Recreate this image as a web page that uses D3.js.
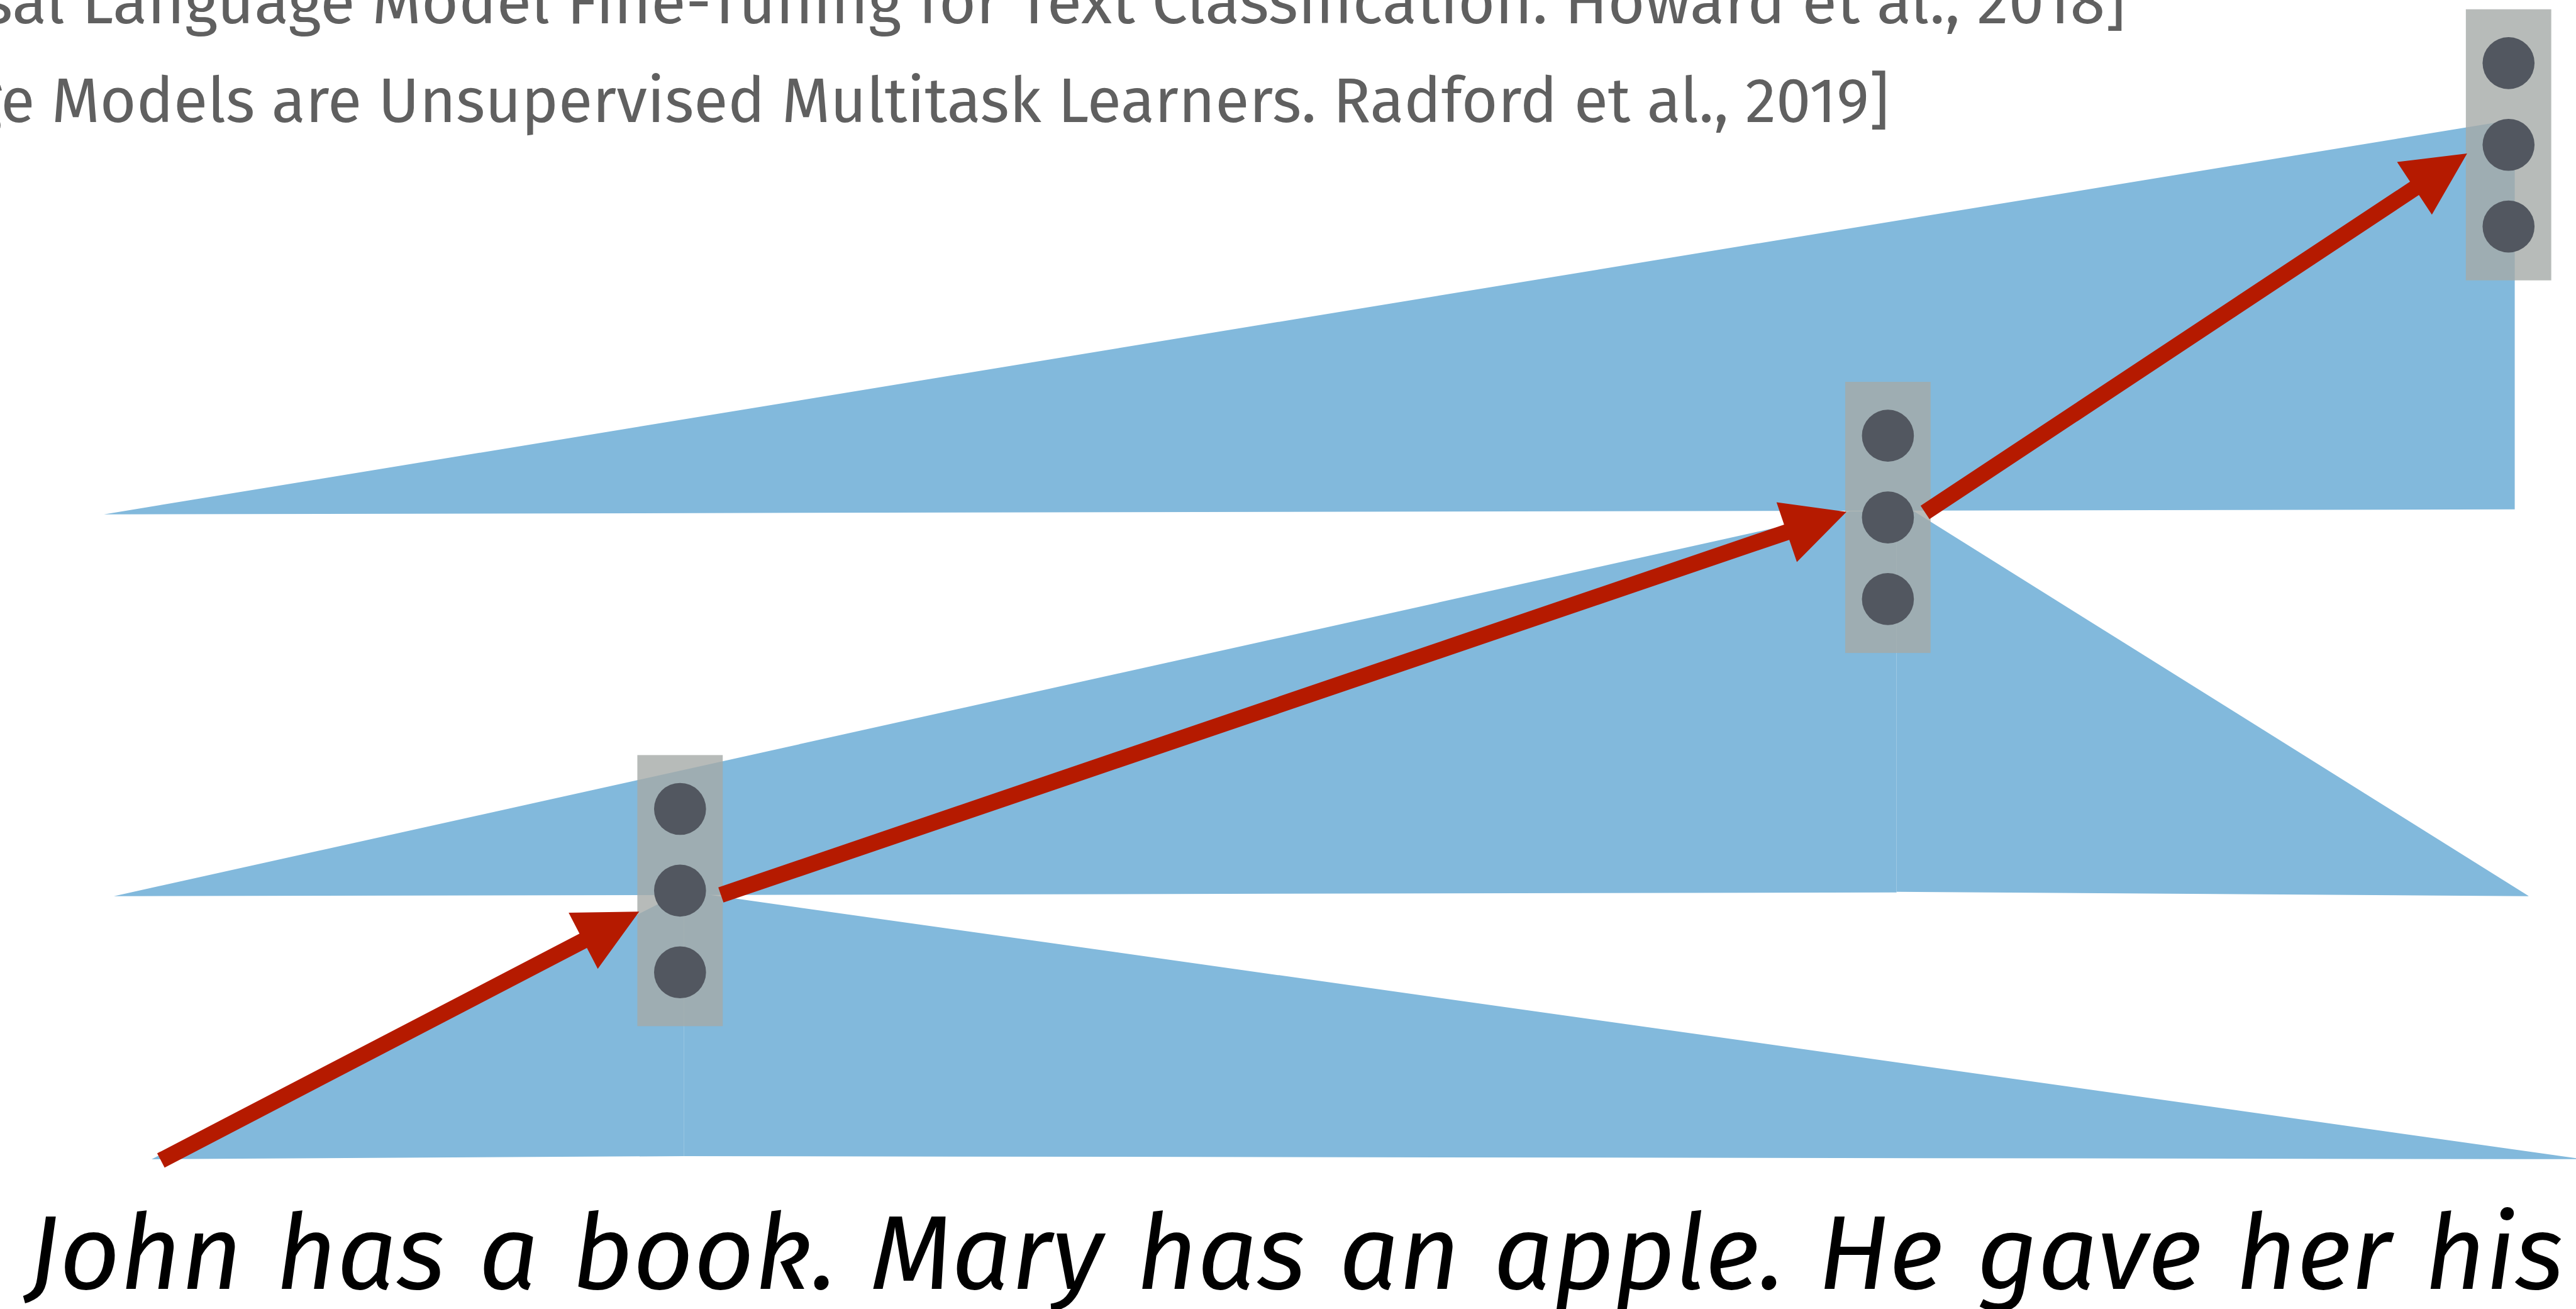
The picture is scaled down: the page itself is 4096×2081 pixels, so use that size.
<!DOCTYPE html>
<html>
<head>
<meta charset="utf-8">
<script src="https://cdn.jsdelivr.net/npm/d3@7"></script>
<style>
  html, body { margin: 0; padding: 0; background: #ffffff; overflow: hidden; }
  svg { display: block; }
</style>
</head>
<body>
<svg id="chart"></svg>
<script>
// ---------- data (reference pixel units) ----------
const citations = [
  "[Universal Language Model Fine-Tuning for Text Classification. Howard et al., 2018]",
  "[Language Models are Unsupervised Multitask Learners. Radford et al., 2019]"
];
const sentence = "John has a book. Mary has an apple. He gave her his";

// context "fans" (blue wedges), one per layer
const topLayer         = [[168, 831], [4064, 193], [4064, 823]];
const middleLayerLeft  = [[184, 1448], [2990, 826], [3065, 826], [3065, 1442]];
const middleLayerRight = [[3065, 826], [3093, 826], [4087, 1448], [3065, 1441]];
const bottomLayerLeft  = [[245, 1873], [1105, 1440], [1105, 1868]];
const bottomLayerRight = [[1105, 1440], [4175, 1873], [1105, 1868]];

// hidden-state vectors (grey boxes with three units)
const neuronCenters = [[1099, 1439], [3051, 836], [4054, 234]];
const neuronUnits = [-1, 0, 1];

// red arrows: tail -> tip
const arrowTails = [[260, 1875], [1165, 1446], [3111, 828]];
const arrowTips  = [[1033, 1473], [2984, 827], [3987, 248]];

// ---------- layout ----------
const W = 4096, H = 2081, REF_W = 4163, REF_H = 2115;
const k = W / REF_W;
const x = d3.scaleLinear().domain([0, REF_W]).range([0, W]);
const y = d3.scaleLinear().domain([0, REF_H]).range([0, H]);

const BLUE = "#82b9dc", RED = "#b51a00", DOT = "#525760", BOX = "rgb(165,170,168)";
const boxW = 138, boxH = 438, unitGap = 132, unitR = 42;
const shaftW = 26, headL = 102, headW = 102;

const svg = d3.select("#chart").attr("width", W).attr("height", H);

// ---------- citations ----------
const citeFont = "'Fira Sans', 'Open Sans', 'Noto Sans', sans-serif";
const citeFits = [
  { baseline: 38,  from: "Language", to: "2018", a: 132, b: 3195 },
  { baseline: 197, from: "Models",   to: null,   a: 83,  b: 3053 }
];
citations.forEach((str, i) => {
  const f = citeFits[i];
  const t = svg.append("text")
    .attr("x", 0).attr("y", y(f.baseline))
    .attr("font-family", citeFont)
    .attr("font-size", 101 * k)
    .attr("fill", "#606060")
    .text(str);
  const node = t.node();
  const total = node.getComputedTextLength();
  const iA = str.indexOf(f.from);
  const p0 = node.getStartPositionOfChar(iA).x;
  const p1 = f.to ? node.getStartPositionOfChar(str.indexOf(f.to)).x : total;
  const s = (x(f.b) - x(f.a)) / (p1 - p0);
  t.attr("textLength", total * s)
   .attr("lengthAdjust", "spacingAndGlyphs")
   .attr("x", x(f.a) - p0 * s);
});

// ---------- blue wedges ----------
const layers = [topLayer, middleLayerLeft, middleLayerRight, bottomLayerLeft, bottomLayerRight];
svg.append("g").selectAll("polygon")
  .data(layers)
  .join("polygon")
  .attr("points", d => d.map(p => [x(p[0]), y(p[1])].join(",")).join(" "))
  .attr("fill", BLUE);

// ---------- neuron boxes ----------
const boxes = svg.append("g").selectAll("g")
  .data(neuronCenters)
  .join("g");
boxes.append("rect")
  .attr("x", d => x(d[0] - boxW / 2))
  .attr("y", d => y(d[1] - boxH / 2))
  .attr("width", boxW * k)
  .attr("height", boxH * k)
  .attr("fill", BOX)
  .attr("fill-opacity", 0.8);
boxes.selectAll("circle")
  .data(d => neuronUnits.map(u => [d[0], d[1] + u * unitGap]))
  .join("circle")
  .attr("cx", d => x(d[0]))
  .attr("cy", d => y(d[1]))
  .attr("r", unitR * k)
  .attr("fill", DOT);

// ---------- arrows ----------
function arrowPoints(T, P) {
  const dx = P[0] - T[0], dy = P[1] - T[1];
  const len = Math.hypot(dx, dy);
  const ux = dx / len, uy = dy / len, nx = -uy, ny = ux;
  const B = [P[0] - headL * ux, P[1] - headL * uy];
  const pts = [
    [T[0] + nx * shaftW / 2, T[1] + ny * shaftW / 2],
    [B[0] + nx * shaftW / 2, B[1] + ny * shaftW / 2],
    [B[0] + nx * headW / 2,  B[1] + ny * headW / 2],
    P,
    [B[0] - nx * headW / 2,  B[1] - ny * headW / 2],
    [B[0] - nx * shaftW / 2, B[1] - ny * shaftW / 2],
    [T[0] - nx * shaftW / 2, T[1] - ny * shaftW / 2]
  ];
  return pts.map(p => [x(p[0]), y(p[1])].join(",")).join(" ");
}
svg.append("g").selectAll("polygon")
  .data(arrowTails.map((t, i) => [t, arrowTips[i]]))
  .join("polygon")
  .attr("points", d => arrowPoints(d[0], d[1]))
  .attr("fill", RED);

// ---------- sentence ----------
const sent = svg.append("text")
  .attr("x", x(45)).attr("y", y(2082))
  .attr("font-family", "'Fira Sans', 'Open Sans', 'Noto Sans', sans-serif")
  .attr("font-style", "italic")
  .attr("font-size", 170 * k)
  .attr("fill", "#000000")
  .text(sentence);
const natural = sent.node().getComputedTextLength();
const gaps = sentence.split(" ").length - 1;
sent.attr("word-spacing", (x(4143) - x(45) - natural) / gaps);
</script>
</body>
</html>
